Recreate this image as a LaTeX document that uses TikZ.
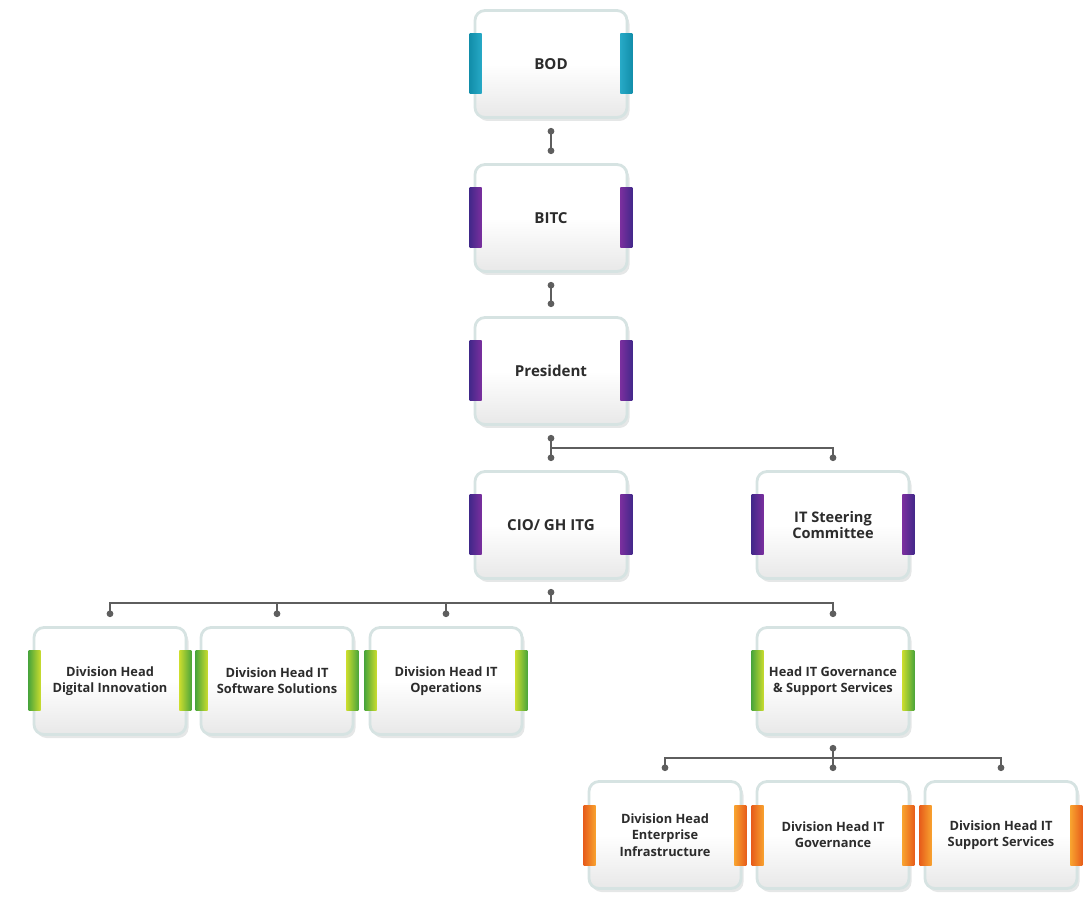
\documentclass[tikz,border=0pt]{standalone}
\usepackage{fontspec}
\setmainfont{Open Sans}
\usetikzlibrary{arrows.meta, calc, shadows}
\definecolor{cframe}{HTML}{D6E3E2}
\definecolor{cink}{HTML}{2C2C2C}
\definecolor{cline}{HTML}{5E5E5E}
\definecolor{ctealA}{HTML}{128EAA}
\definecolor{ctealB}{HTML}{27A9C6}
\definecolor{cpurpleA}{HTML}{43288A}
\definecolor{cpurpleB}{HTML}{7A2F9E}
\definecolor{cgreenA}{HTML}{4CA63A}
\definecolor{cgreenB}{HTML}{C9DC2E}
\definecolor{corangeA}{HTML}{E75E1B}
\definecolor{corangeB}{HTML}{F8A22F}
\tikzset{
  every picture/.style={font=\bfseries},
  box/.style={draw=cframe, line width=1.6pt, top color=white, bottom color=black!9, middle color=white,
    rounded corners=2mm, minimum width=30.4mm, minimum height=21.4mm, inner sep=2pt, align=center,
    text=cink, font=\bfseries\fontsize{#1}{9.3}\selectfont,
    drop shadow={shadow xshift=0.5mm, shadow yshift=-0.7mm, opacity=0.25, fill=cframe!70!black}},
  box/.default=7.3,
  link/.style={draw=cline, line width=0.7pt, >={Circle[length=3.8pt]}},
  lnboth/.style={link, <->, shorten <=1.8mm, shorten >=1.8mm},
  lnstart/.style={link, <-, shorten <=1.8mm},
  lnend/.style={link, ->, shorten >=1.8mm},
}
\begin{document}
\begin{tikzpicture}[x=0.2mm, y=-0.2mm]
  \useasboundingbox (0,0) rectangle (1088,901);
  % board and top management
  \node[box=8.6] (bod) at (551,64) {BOD};
  \node[box=8.6] (bitc) at (551,218) {BITC};
  \node[box=8.6] (pres) at (551,371) {President};
  \node[box=8.6] (cio) at (551,525) {CIO/ GH ITG};
  \node[box=8.3] (steer) at (833,525) {IT Steering\\Committee};
  % division heads under the CIO
  \node[box] (dig) at (110,681) {Division Head\\Digital Innovation};
  \node[box] (soft) at (277,681) {Division Head IT\\Software Solutions};
  \node[box] (ops) at (446,681) {Division Head IT\\Operations};
  \node[box] (gov) at (833,681) {Head IT Governance\\\& Support Services};
  % units under governance
  \node[box] (ent) at (665,835) {Division Head\\Enterprise\\Infrastructure};
  \node[box] (itgov) at (833,835) {Division Head IT\\Governance};
  \node[box] (sup) at (1001,835) {Division Head IT\\Support Services};
  % coloured side bars
  \foreach \n/\a/\b in {bod/ctealA/ctealB, bitc/cpurpleA/cpurpleB, pres/cpurpleA/cpurpleB,
      cio/cpurpleA/cpurpleB, steer/cpurpleA/cpurpleB, dig/cgreenA/cgreenB, soft/cgreenA/cgreenB,
      ops/cgreenA/cgreenB, gov/cgreenA/cgreenB, ent/corangeA/corangeB, itgov/corangeA/corangeB,
      sup/corangeA/corangeB}{
    \shade[left color=\a, right color=\b] ($(\n.west)+(-4,-30)$) rectangle ($(\n.west)+(8,30)$);
    \shade[left color=\b, right color=\a] ($(\n.east)+(-8,-30)$) rectangle ($(\n.east)+(4,30)$);
  }
  % connectors
  \coordinate (j1) at ($(pres.south)!0.5!(cio.north)$);
  \coordinate (j2) at (551,603);
  \coordinate (j3) at ($(gov.south)!0.5!(itgov.north)$);
  \draw[lnboth] (bod) -- (bitc);
  \draw[lnboth] (bitc) -- (pres);
  \draw[lnboth] (pres) -- (cio);
  \draw[lnend] (j1) -| (steer.north);
  \draw[lnstart] (cio) -- (j2);
  \foreach \t in {dig,soft,ops,gov} \draw[lnend] (j2) -| (\t.north);
  \draw[lnboth] (gov) -- (itgov);
  \foreach \t in {ent,sup} \draw[lnend] (j3) -| (\t.north);
\end{tikzpicture}
\end{document}
